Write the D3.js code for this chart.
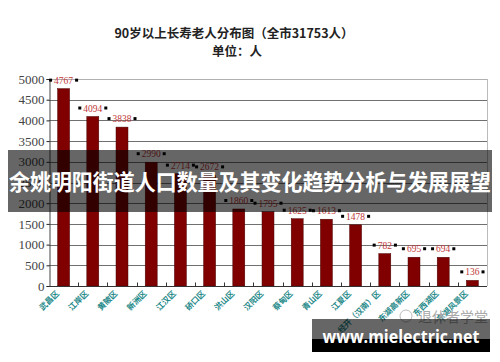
<!DOCTYPE html>
<html>
<head>
<meta charset="utf-8">
<script src="https://cdn.jsdelivr.net/npm/d3@7"></script>
<style>
  body { margin: 0; background: #fff; }
  svg { display: block; }
</style>
</head>
<body>
<div id="chart"></div>
<script>
// chart data
var districts = ["武昌区", "江岸区", "黄陂区", "新洲区", "江汉区", "硚口区", "洪山区", "汉阳区",
                 "蔡甸区", "青山区", "江夏区", "经开（汉南）区", "东湖高新区", "东西湖区", "东湖风景区"]
var counts = [4767, 4094, 3838, 2990, 2714, 2672, 1860, 1795, 1625, 1613, 1478, 782, 695, 694, 136]
var yTicks = [0, 500, 1000, 1500, 2000, 2500, 3000, 3500, 4000, 4500, 5000]

var width = 500, height = 362
var m = {left: 49, right: 13, top: 79, bottom: 76}

var svg = d3.select("#chart").append("svg").attr("width", width).attr("height", height)

var x = d3.scaleBand().domain(districts).range([m.left, width - m.right]).paddingInner(0.59).paddingOuter(0.295)
var y = d3.scaleLinear().domain([0, 5000]).range([height - m.bottom, m.top])

// titles
svg.append("text").attr("x", 234).attr("y", 38).attr("text-anchor", "middle")
  .style("font-family", "'Noto Sans CJK SC'").style("font-size", "12.5px").style("font-weight", 600)
  .style("fill", "#222").text("90岁以上长寿老人分布图（全市31753人）")
svg.append("text").attr("x", 237).attr("y", 56).attr("text-anchor", "middle")
  .style("font-family", "'Noto Sans CJK SC'").style("font-size", "12.5px").style("font-weight", 600)
  .style("fill", "#222").text("单位：人")

// grid
svg.append("g").selectAll("line").data(yTicks.slice(1)).join("line")
  .attr("x1", m.left).attr("x2", width - m.right)
  .attr("y1", d => Math.round(y(d)) + 0.5).attr("y2", d => Math.round(y(d)) + 0.5)
  .attr("stroke", d => d == 5000 ? "#b0b0b0" : "#707070")
svg.append("line").attr("x1", width - m.right + 0.5).attr("x2", width - m.right + 0.5)
  .attr("y1", y(5000)).attr("y2", y(0)).attr("stroke", "#bbb")

// y axis
var yAxis = svg.append("g").attr("transform", "translate(" + (m.left + 0.5) + ",0)")
  .call(d3.axisLeft(y).tickValues(yTicks).tickSize(3).tickPadding(2).tickFormat(d3.format("d")))
yAxis.select(".domain").attr("stroke", "#444")
yAxis.selectAll(".tick line").attr("stroke", "#222")
yAxis.selectAll("text").style("font-family", "'Liberation Serif'").style("font-size", "13px").style("fill", "#444")

// bars
svg.append("g").selectAll("rect").data(counts).join("rect")
  .attr("x", (d, i) => x(districts[i])).attr("width", x.bandwidth())
  .attr("y", d => y(d)).attr("height", d => y(0) - y(d))
  .attr("fill", "#800000").attr("stroke", "#4a0000").attr("stroke-width", 0.5)

// x axis with inner ticks between categories
var bottom = Math.round(y(0)) + 0.5
svg.append("line").attr("x1", m.left).attr("x2", width - m.right).attr("y1", bottom).attr("y2", bottom).attr("stroke", "#333")
svg.append("g").selectAll("line").data(d3.range(1, districts.length)).join("line")
  .attr("x1", i => Math.round(m.left + i * x.step()) + 0.5).attr("x2", i => Math.round(m.left + i * x.step()) + 0.5)
  .attr("y1", bottom).attr("y2", bottom - 4).attr("stroke", "#333")

svg.append("g").selectAll("text").data(districts).join("text")
  .attr("transform", d => "translate(" + (x(d) + x.bandwidth() / 2 - 4) + "," + (y(0) + 8) + ") rotate(-45)")
  .attr("text-anchor", "end")
  .style("font-family", "'Noto Sans CJK SC'").style("font-size", "8px").style("font-weight", 700)
  .style("fill", "#1f8a8a").text(d => d)

// value labels with the little black markers
var labels = svg.append("g").selectAll("g").data(counts).join("g")
  .attr("transform", (d, i) => "translate(" + (x(districts[i]) + x.bandwidth() / 2) + "," + (y(d) - 5) + ")")
labels.append("text").attr("text-anchor", "middle")
  .style("font-family", "'Liberation Serif'").style("font-size", "9.5px").style("fill", "#c03838")
  .text(d => d)
labels.each(function () {
  var g = d3.select(this)
  var w = g.select("text").node().getComputedTextLength()
  g.append("rect").attr("x", -w / 2 - 5).attr("y", -5).attr("width", 3).attr("height", 3).attr("fill", "#000")
  g.append("rect").attr("x", w / 2 + 2).attr("y", -5).attr("width", 3).attr("height", 3).attr("fill", "#000")
})

// watermark
svg.append("circle").attr("cx", 406).attr("cy", 316).attr("r", 6).attr("fill", "none").attr("stroke", "#bbb")
svg.append("text").attr("x", 418).attr("y", 322)
  .style("font-family", "'Noto Sans CJK SC'").style("font-size", "14px").style("fill", "#aaa").text("退休者学堂")

// overlay banner
svg.append("rect").attr("x", 8).attr("y", 150).attr("width", 484).attr("height", 62).attr("fill", "rgba(0,0,0,0.6)")
svg.append("text").attr("x", 250).attr("y", 190).attr("text-anchor", "middle")
  .attr("textLength", 482).attr("lengthAdjust", "spacingAndGlyphs")
  .style("font-family", "'Noto Sans CJK SC'").style("font-size", "22px").style("font-weight", 700)
  .style("fill", "#fff").text("余姚明阳街道人口数量及其变化趋势分析与发展展望")

// bottom site banner
svg.append("rect").attr("x", 312).attr("y", 319).attr("width", 178).attr("height", 21).attr("fill", "rgba(0,0,0,0.6)")
svg.append("rect").attr("x", 312).attr("y", 339).attr("width", 178).attr("height", 13).attr("fill", "#000")
svg.append("text").attr("x", 401).attr("y", 343).attr("text-anchor", "middle")
  .attr("textLength", 157).attr("lengthAdjust", "spacingAndGlyphs")
  .style("font-family", "'Open Sans'").style("font-size", "17px").style("font-weight", 700)
  .style("fill", "#fff").text("www.mielectric.net")
</script>
</body>
</html>
